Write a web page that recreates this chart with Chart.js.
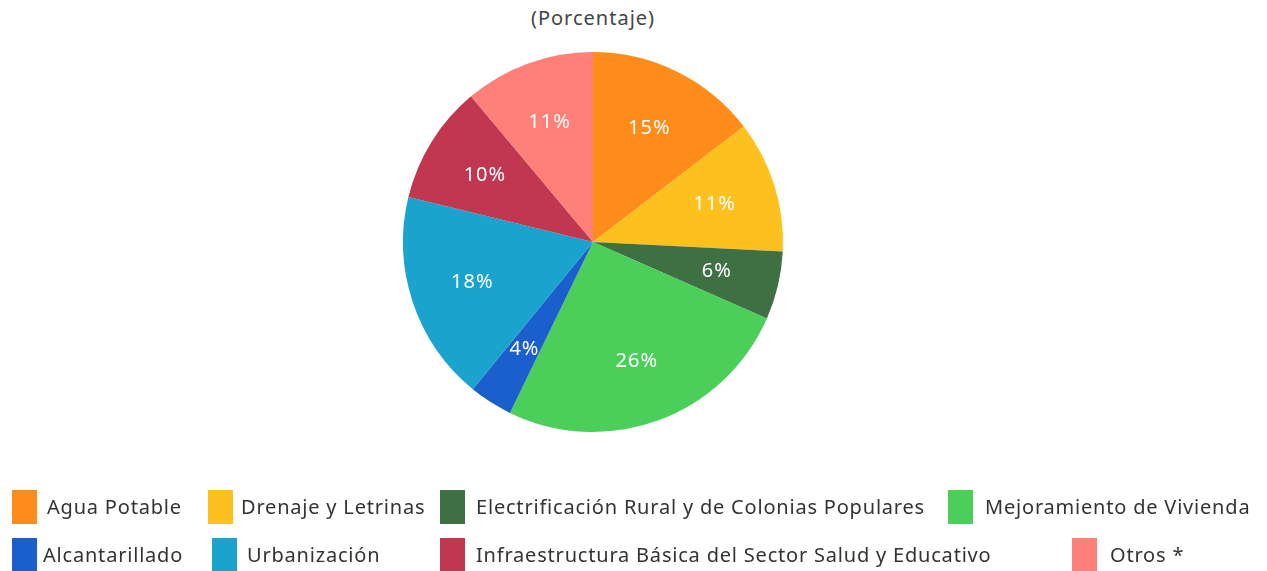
<!DOCTYPE html>
<html>
<head>
<meta charset="utf-8">
<script src="https://cdn.jsdelivr.net/npm/chart.js@4"></script>
<style>
  html, body { margin: 0; padding: 0; background: #fff; }
  #wrap { position: relative; width: 1267px; height: 571px; overflow: hidden; font-family: "Noto Sans", sans-serif; }
  #sub { position: absolute; left: 0; width: 1186px; top: 4px; text-align: center; font-size: 20px; letter-spacing: 1px; color: #444; }
  #chart { position: absolute; left: 0; top: 0; }
  .item { position: absolute; height: 34px; }
  .item .box { position: absolute; left: 0; top: 0; width: 25px; height: 34px; }
  .item .lbl { position: absolute; top: 3px; white-space: nowrap; font-size: 20px; letter-spacing: 0.8px; color: #333; }
</style>
</head>
<body>
<div id="wrap">
  <div id="sub">(Porcentaje)</div>
  <canvas id="chart" width="1267" height="571"></canvas>
  <div id="legend"></div>
</div>
<script>
// categories, clockwise from 12 o'clock
const categories = [
  'Agua Potable',
  'Drenaje y Letrinas',
  'Electrificación Rural y de Colonias Populares',
  'Mejoramiento de Vivienda',
  'Alcantarillado',
  'Urbanización',
  'Infraestructura Básica del Sector Salud y Educativo',
  'Otros *'
];
const shares = [14.6, 11.2, 5.8, 25.6, 3.7, 17.9, 10.1, 11.1];
const colors = ['#fe8c1b', '#fdc11f', '#3e7044', '#4bce5a', '#1b5fcd', '#1aa3cc', '#c0374f', '#fe8078'];

// legend slots (x of box, x of text, row) in category order
const legendSlots = [
  [12, 47, 0], [208, 241, 0], [440, 476, 0], [948, 985, 0],
  [12, 43, 1], [212, 247, 1], [440, 476, 1], [1072, 1110, 1]
];
const rowTop = [490, 538];

// percent labels drawn inside each slice
const sliceLabels = {
  id: 'sliceLabels',
  afterDatasetsDraw(chart) {
    const ctx = chart.ctx;
    const meta = chart.getDatasetMeta(0);
    ctx.save();
    ctx.font = '20px "Noto Sans", sans-serif';
    ctx.letterSpacing = '1px';
    ctx.fillStyle = '#fff';
    ctx.textAlign = 'center';
    ctx.textBaseline = 'middle';
    meta.data.forEach((arc, i) => {
      const p = arc.getProps(['x', 'y', 'startAngle', 'endAngle', 'outerRadius'], true);
      const mid = (p.startAngle + p.endAngle) / 2;
      const r = p.outerRadius * 0.67;
      ctx.fillText(Math.round(shares[i]) + '%', p.x + Math.cos(mid) * r, p.y + Math.sin(mid) * r);
    });
    ctx.restore();
  }
};

const chart = new Chart(document.getElementById('chart'), {
  type: 'pie',
  data: {
    labels: categories,
    datasets: [{ data: shares, backgroundColor: colors, borderWidth: 0 }]
  },
  options: {
    responsive: false,
    animation: false,
    layout: { padding: { left: 403, right: 484, top: 52, bottom: 139 } },
    plugins: {
      legend: { display: false },
      tooltip: { enabled: false }
    }
  },
  plugins: [sliceLabels]
});

// html legend built from the chart data
const legend = document.getElementById('legend');
chart.data.labels.forEach((name, i) => {
  const [bx, tx, row] = legendSlots[i];
  const item = document.createElement('div');
  item.className = 'item';
  item.style.left = bx + 'px';
  item.style.top = rowTop[row] + 'px';
  item.innerHTML = `<div class="box" style="background:${colors[i]}"></div><div class="lbl" style="left:${tx - bx}px">${name}</div>`;
  legend.appendChild(item);
});
</script>
</body>
</html>
